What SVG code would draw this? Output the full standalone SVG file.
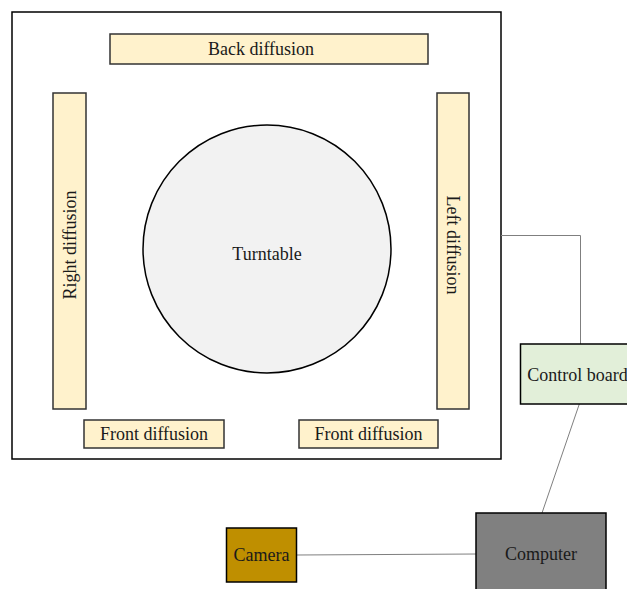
<svg xmlns="http://www.w3.org/2000/svg" width="627" height="589" viewBox="0 0 627 589">
<style>
  .diff { fill: #fff2cc; stroke: #333333; stroke-width: 1.5; }
  .lbl { font-family: "Liberation Serif", "Times New Roman", serif; font-size: 18px; fill: #1a1a1a; text-anchor: middle; dominant-baseline: central; }
  .conn { fill: none; stroke: #7f7f7f; stroke-width: 1; }
</style>
<rect width="627" height="589" fill="#ffffff"/>
<g id="enclosure">
  <rect x="12" y="12" width="489" height="447" fill="#ffffff" stroke="#000000" stroke-width="1.5"/>
</g>
<g id="connectors">
  <polyline class="conn" points="501,235.5 580.5,235.5 580.5,344"/>
  <line class="conn" x1="580" y1="402" x2="542" y2="513"/>
  <line class="conn" x1="297" y1="555" x2="476" y2="554"/>
</g>
<g id="back-diffusion">
  <rect class="diff" x="110" y="34" width="318" height="30"/>
  <text class="lbl" x="261" y="49">Back diffusion</text>
</g>
<g id="right-diffusion">
  <rect class="diff" x="53" y="93" width="33" height="316"/>
  <text class="lbl" transform="translate(69.5,245) rotate(-90)" x="0" y="0">Right diffusion</text>
</g>
<g id="left-diffusion">
  <rect class="diff" x="437" y="93" width="32" height="316"/>
  <text class="lbl" transform="translate(453,245) rotate(90)" x="0" y="0">Left diffusion</text>
</g>
<g id="turntable">
  <circle cx="267" cy="249" r="124" fill="#f2f2f2" stroke="#000000" stroke-width="1.5"/>
  <text class="lbl" x="267" y="254">Turntable</text>
</g>
<g id="front-diffusion-1">
  <rect class="diff" x="84" y="420" width="140" height="28"/>
  <text class="lbl" x="154" y="434">Front diffusion</text>
</g>
<g id="front-diffusion-2">
  <rect class="diff" x="299" y="420" width="139" height="28"/>
  <text class="lbl" x="368.5" y="434">Front diffusion</text>
</g>
<g id="control-board">
  <rect x="520.5" y="344" width="114" height="60" fill="#e2efd9" stroke="#000000" stroke-width="1.5"/>
  <text class="lbl" x="577.5" y="375">Control board</text>
</g>
<g id="computer">
  <rect x="476" y="513" width="130" height="80" fill="#808080" stroke="#000000" stroke-width="1.5"/>
  <text class="lbl" x="541" y="554">Computer</text>
</g>
<g id="camera">
  <rect x="226.5" y="528" width="70" height="54" fill="#bf8f00" stroke="#000000" stroke-width="1.5"/>
  <text class="lbl" x="261.5" y="555">Camera</text>
</g>
</svg>
